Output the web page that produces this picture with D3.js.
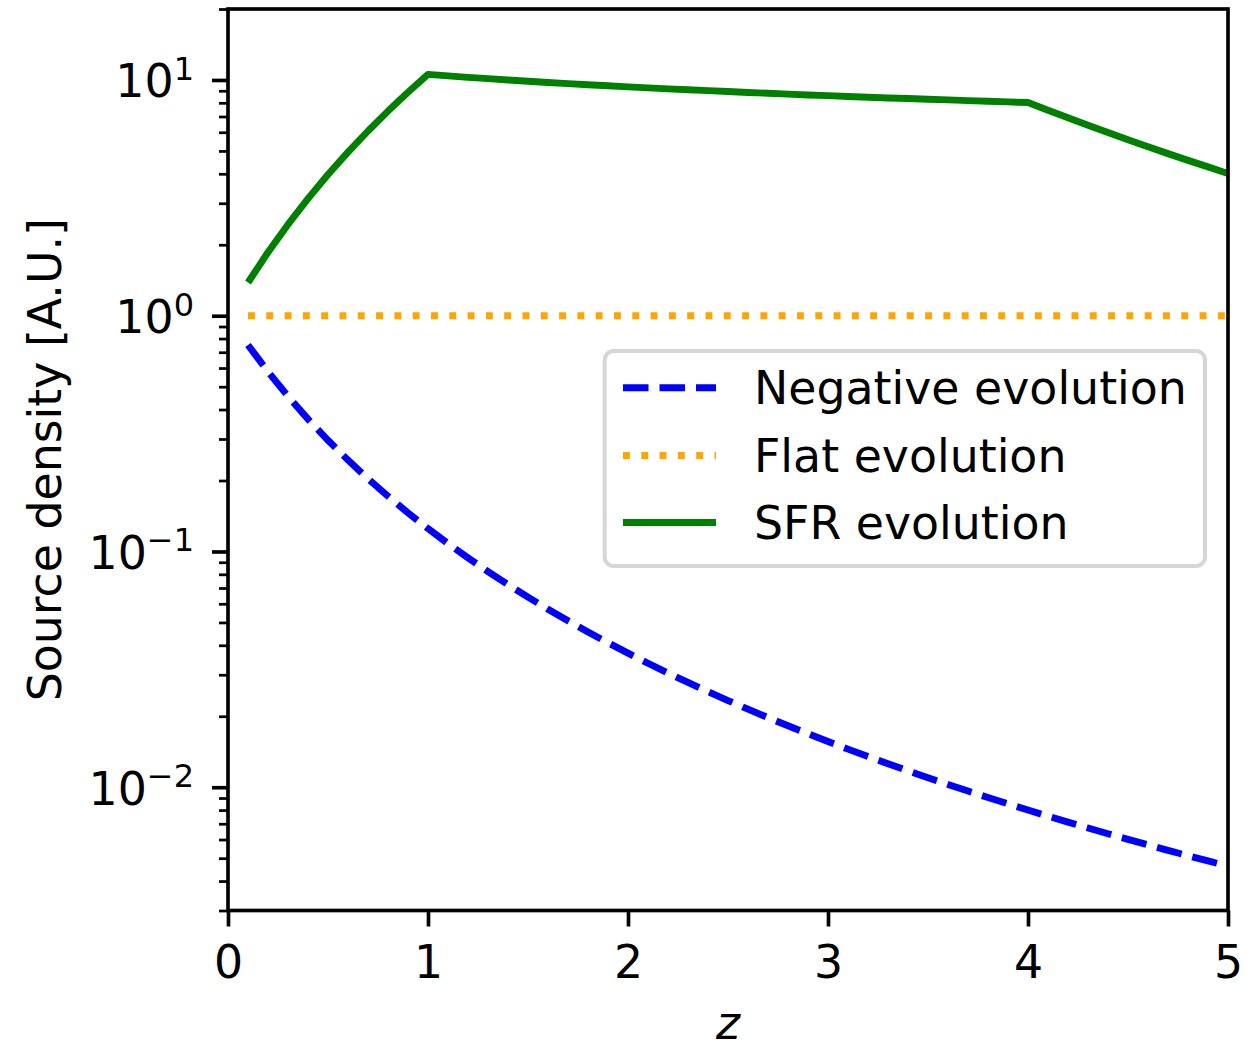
<!DOCTYPE html>
<html>
<head>
<meta charset="utf-8">
<script src="https://cdn.jsdelivr.net/npm/d3@7"></script>
<style>
  html, body { margin: 0; padding: 0; background: #fff; }
  svg { display: block; font-family: "DejaVu Sans", sans-serif; }
</style>
</head>
<body>
<svg id="chart" width="1250" height="1042"></svg>
<script>
// ---- data ----
const zValues = [0.1,0.2,0.3,0.4,0.5,0.6,0.7,0.8,0.9,1.0,
  1.1,1.2,1.3,1.4,1.5,1.6,1.7,1.8,1.9,2.0,
  2.1,2.2,2.3,2.4,2.5,2.6,2.7,2.8,2.9,3.0,
  3.1,3.2,3.3,3.4,3.5,3.6,3.7,3.8,3.9,4.0,
  4.1,4.2,4.3,4.4,4.5,4.6,4.7,4.8,4.9,5.0];

const negativeEvolution = [0.7513,0.5787,0.4552,0.3644,0.2963,0.2441,0.2035,0.1715,0.1458,0.1250,
  0.1080,0.09391,0.08219,0.07234,0.0640,0.05690,0.05081,0.04555,0.04100,0.03704,
  0.03357,0.03052,0.02783,0.02544,0.02332,0.02143,0.01974,0.01822,0.01686,0.015625,
  0.01451,0.01350,0.01258,0.01174,0.01097,0.01027,0.009632,0.009042,0.008500,0.0080,
  0.007539,0.007112,0.006717,0.006351,0.006011,0.005694,0.005400,0.005125,0.004869,0.004630];

const flatZ = [0.1, 5.0];
const flatEvolution = [1, 1];

const sfrEvolution = [1.383,1.859,2.440,3.139,3.969,4.943,6.075,7.378,8.867,10.556,
  10.41,10.26,10.13,10.00,9.88,9.76,9.65,9.55,9.45,9.35,
  9.26,9.17,9.09,9.01,8.93,8.85,8.78,8.71,8.64,8.58,
  8.51,8.45,8.39,8.34,8.28,8.23,8.17,8.12,8.07,8.02,
  7.44,6.91,6.43,5.99,5.58,5.21,4.87,4.56,4.28,4.01];

const xTicks = [0, 1, 2, 3, 4, 5];
const yMajorTicks = [0.01, 0.1, 1, 10];
const yMajorExponents = ["\u22122", "\u22121", "0", "1"];
const legendLabels = ["Negative evolution", "Flat evolution", "SFR evolution"];
const seriesColors = ["blue", "orange", "green"];

// ---- layout ----
const svg = d3.select("#chart");
const L = 228, R = 1228, T = 9, B = 910.5;
const FS = 45.8;
const x = d3.scaleLinear().domain([0, 5]).range([L, R]);
const y = d3.scaleLog().domain([0.003, 20]).range([B, T]);

const lw = 6.9;
const dashed = "25.5 11";
const dotted = "6.9 11.4";

// clip
svg.append("defs").append("clipPath").attr("id", "clip")
  .append("rect").attr("x", L).attr("y", T).attr("width", R - L).attr("height", B - T);

const plot = svg.append("g").attr("clip-path", "url(#clip)");

const line = d3.line().x(d => x(d[0])).y(d => y(d[1]));

plot.append("path")
  .datum(zValues.map((z, i) => [z, negativeEvolution[i]]))
  .attr("d", line).attr("fill", "none")
  .attr("stroke", seriesColors[0]).attr("stroke-width", lw)
  .attr("stroke-dasharray", dashed).attr("stroke-linecap", "butt");

plot.append("path")
  .datum(flatZ.map((z, i) => [z, flatEvolution[i]]))
  .attr("d", line).attr("fill", "none")
  .attr("stroke", seriesColors[1]).attr("stroke-width", lw)
  .attr("stroke-dasharray", dotted).attr("stroke-linecap", "butt");

plot.append("path")
  .datum(zValues.map((z, i) => [z, sfrEvolution[i]]))
  .attr("d", line).attr("fill", "none")
  .attr("stroke", seriesColors[2]).attr("stroke-width", lw)
  .attr("stroke-linejoin", "round").attr("stroke-linecap", "butt");

// ---- axes ----
const xAxis = d3.axisBottom(x).tickValues(xTicks).tickSize(16).tickPadding(0).tickFormat(d3.format("d"));
const gx = svg.append("g").attr("transform", `translate(0,${B})`).call(xAxis);
gx.select(".domain").remove();
gx.selectAll(".tick line").attr("stroke", "#000").attr("stroke-width", 3.66);
gx.selectAll(".tick text").attr("font-size", FS).attr("font-family", "DejaVu Sans")
  .attr("fill", "#000").attr("dy", null).attr("y", 67.5);

// minor y ticks
const minorVals = [];
[0.001, 0.01, 0.1, 1, 10].forEach(dec => {
  for (let m = 2; m <= 9; m++) {
    const v = +(m * dec).toPrecision(3);
    if (v >= 0.003 - 1e-12 && v <= 20 + 1e-9) minorVals.push(v);
  }
});
const yMinor = d3.axisLeft(y).tickValues(minorVals).tickSize(9).tickFormat("");
const gyMinor = svg.append("g").attr("transform", `translate(${L},0)`).call(yMinor);
gyMinor.select(".domain").remove();
gyMinor.selectAll(".tick line").attr("stroke", "#000").attr("stroke-width", 2.74);

const yMajor = d3.axisLeft(y).tickValues(yMajorTicks).tickSize(16).tickFormat("");
const gy = svg.append("g").attr("transform", `translate(${L},0)`).call(yMajor);
gy.select(".domain").remove();
gy.selectAll(".tick line").attr("stroke", "#000").attr("stroke-width", 3.66);

// y tick labels 10^k
const ylab = svg.append("g");
yMajorTicks.forEach((v, i) => {
  const t = ylab.append("text")
    .attr("x", 194).attr("y", y(v) + 17.5)
    .attr("text-anchor", "end").attr("font-size", FS).attr("fill", "#000");
  t.append("tspan").text("10");
  t.append("tspan").attr("dy", -17.5).attr("font-size", 32).text(yMajorExponents[i]);
});

// spines
const sw = 3.66;
svg.append("rect").attr("x", L).attr("y", T).attr("width", R - L).attr("height", B - T)
  .attr("fill", "none").attr("stroke", "#000").attr("stroke-width", sw)
  .attr("stroke-linejoin", "miter");

// axis labels
svg.append("text").attr("x", (L + R) / 2).attr("y", 1039)
  .attr("text-anchor", "middle").attr("font-size", FS).attr("font-style", "italic")
  .attr("font-family", "DejaVu Sans").text("z");

svg.append("text")
  .attr("transform", `translate(61,${(T + B) / 2}) rotate(-90)`)
  .attr("text-anchor", "middle").attr("font-size", FS)
  .text("Source density [A.U.]");

// ---- legend ----
const lg = svg.append("g");
lg.append("rect").attr("x", 604.7).attr("y", 351).attr("width", 1205 - 604.7).attr("height", 566 - 351)
  .attr("rx", 9).attr("ry", 9)
  .attr("fill", "#fff").attr("fill-opacity", 0.8)
  .attr("stroke", "#cccccc").attr("stroke-opacity", 0.8).attr("stroke-width", 4);

const rowY = [387.7, 455.5, 522.5];
const dashes = [dashed, dotted, null];
legendLabels.forEach((lab, i) => {
  const hl = lg.append("line")
    .attr("x1", 623).attr("x2", 716).attr("y1", rowY[i]).attr("y2", rowY[i])
    .attr("stroke", seriesColors[i]).attr("stroke-width", lw).attr("stroke-linecap", "butt");
  if (dashes[i]) hl.attr("stroke-dasharray", dashes[i]);
  lg.append("text").attr("x", 754).attr("y", rowY[i] + 16.5)
    .attr("font-size", FS).attr("fill", "#000").text(lab);
});
</script>
</body>
</html>
